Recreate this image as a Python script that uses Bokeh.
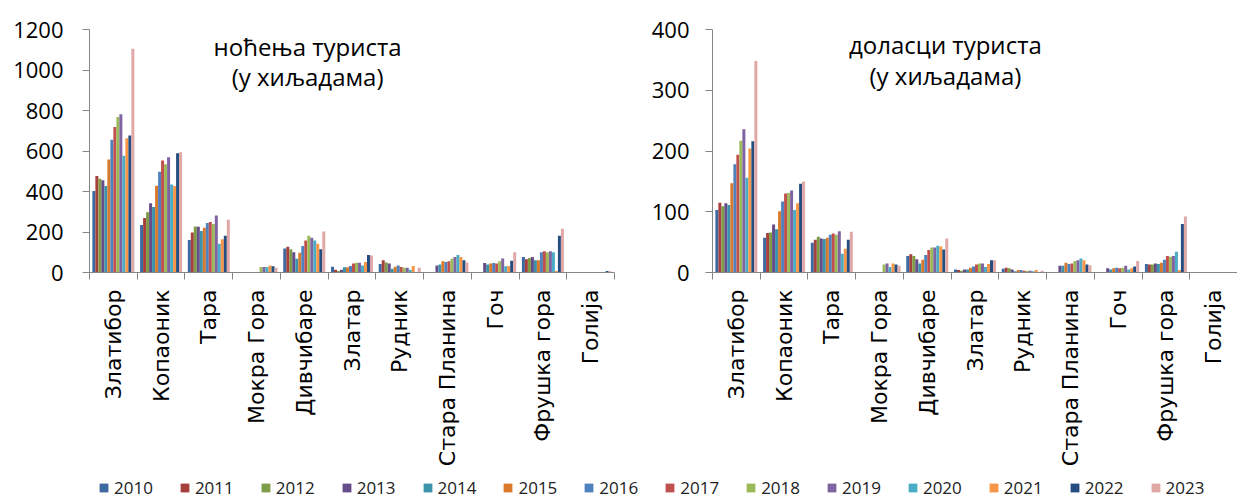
import math
from bokeh.plotting import figure
from bokeh.models import FixedTicker, Range1d, Label, Legend, LegendItem, ColumnDataSource
from bokeh.layouts import column, row
from bokeh.transform import dodge
from bokeh.embed import file_html
from bokeh.resources import INLINE

categories = ["Златибор", "Копаоник", "Тара", "Мокра Гора", "Дивчибаре", "Златар",
              "Рудник", "Стара Планина", "Гоч", "Фрушка гора", "Голија"]
years = ["2010", "2011", "2012", "2013", "2014", "2015", "2016",
         "2017", "2018", "2019", "2020", "2021", "2022", "2023"]

# ноћења туриста (у хиљадама)
n2010 = [403, 234, 160, 0, 118, 29, 42, 0, 0, 76, 0]
n2011 = [477, 269, 197, 0, 127, 13, 61, 0, 0, 65, 0]
n2012 = [463, 298, 227, 0, 115, 8, 50, 0, 0, 71, 0]
n2013 = [455, 342, 226, 0, 100, 13, 45, 34, 47, 76, 0]
n2014 = [427, 323, 205, 0, 68, 26, 19, 40, 39, 61, 0]
n2015 = [558, 429, 221, 0, 97, 26, 29, 55, 44, 61, 0]
n2016 = [655, 497, 244, 0, 131, 32, 35, 52, 47, 100, 0]
n2017 = [718, 553, 250, 0, 158, 45, 27, 55, 44, 105, 0]
n2018 = [768, 535, 240, 27, 182, 48, 24, 68, 56, 100, 0]
n2019 = [781, 569, 281, 27, 171, 48, 23, 76, 69, 105, 0]
n2020 = [576, 434, 142, 27, 158, 34, 13, 87, 31, 100, 0]
n2021 = [663, 427, 164, 34, 142, 52, 32, 76, 32, 8, 0]
n2022 = [677, 589, 182, 31, 115, 87, 3, 60, 58, 181, 8]
n2023 = [1105, 594, 260, 23, 202, 84, 23, 50, 100, 216, 6]

# доласци туриста (у хиљадама)
a2010 = [103, 57, 49, 0, 27, 5, 6, 0, 0, 14, 0]
a2011 = [115, 65, 54, 0, 30, 4, 8, 0, 0, 13, 0]
a2012 = [109, 66, 59, 0, 27, 3, 7, 0, 0, 13, 0]
a2013 = [114, 79, 56, 0, 22, 5, 5, 11, 7, 15, 0]
a2014 = [111, 71, 55, 0, 15, 5, 2, 11, 5, 14, 0]
a2015 = [147, 101, 57, 0, 21, 8, 4, 16, 7, 16, 0]
a2016 = [178, 117, 62, 0, 29, 10, 4, 14, 8, 21, 0]
a2017 = [194, 130, 64, 0, 37, 13, 3, 15, 7, 27, 0]
a2018 = [217, 131, 62, 13, 41, 15, 3, 19, 8, 26, 0]
a2019 = [236, 135, 68, 15, 41, 15, 3, 20, 11, 27, 0]
a2020 = [156, 103, 31, 9, 44, 9, 2, 23, 5, 34, 0]
a2021 = [204, 114, 39, 15, 43, 14, 4, 20, 7, 4, 0]
a2022 = [216, 146, 54, 13, 38, 20, 0.5, 13, 10, 80, 0]
a2023 = [348, 150, 67, 11, 56, 20, 3, 12, 19, 92, 0]

nights = [n2010, n2011, n2012, n2013, n2014, n2015, n2016,
          n2017, n2018, n2019, n2020, n2021, n2022, n2023]
arrivals = [a2010, a2011, a2012, a2013, a2014, a2015, a2016,
            a2017, a2018, a2019, a2020, a2021, a2022, a2023]

colors = ["#3D69A3", "#A6403D", "#7E9C45", "#674C8A", "#3A93AB", "#D8792C", "#4F81BD",
          "#C0504D", "#9BBB59", "#8064A2", "#4BACC6", "#F79646", "#254D80", "#E0A9A8"]

AXIS_COLOR = "#868686"
BAR_W = 0.88 / len(years)


def make_chart(series, ymax, ystep, width, height, b_left, b_right, b_top, b_bottom,
               standoff, t1, t2, tx, ty1, ty2):
    p = figure(width=width, height=height, x_range=Range1d(0, len(categories)),
               y_range=Range1d(0, ymax), output_backend="svg", toolbar_location=None,
               min_border_left=b_left, min_border_right=b_right,
               min_border_top=b_top, min_border_bottom=b_bottom)
    p.outline_line_color = None
    p.xgrid.visible = False
    p.ygrid.visible = False
    p.background_fill_color = None
    p.border_fill_color = "white"

    data = {"xc": [i + 0.5 for i in range(len(categories))]}
    for y, s in zip(years, series):
        data["y" + y] = s
    src = ColumnDataSource(data)
    for j, (y, c) in enumerate(zip(years, colors)):
        p.vbar(x=dodge("xc", (j - (len(years) - 1) / 2) * BAR_W), top="y" + y,
               width=BAR_W, source=src, fill_color=c, line_color=None)

    # y axis
    p.yaxis.ticker = FixedTicker(ticks=list(range(0, ymax + 1, ystep)))
    p.yaxis.axis_line_color = AXIS_COLOR
    p.yaxis.major_tick_line_color = AXIS_COLOR
    p.yaxis.major_tick_in = 0
    p.yaxis.major_tick_out = 7
    p.yaxis.minor_tick_line_color = None
    p.yaxis.major_label_standoff = standoff
    p.yaxis.major_label_text_font = "Open Sans"
    p.yaxis.major_label_text_font_size = "22px"
    p.yaxis.major_label_text_color = "black"

    # x axis: labels at category centres, tick marks at category boundaries
    centers = [i + 0.5 for i in range(len(categories))]
    p.xaxis.ticker = FixedTicker(ticks=centers, minor_ticks=list(range(len(categories) + 1)))
    p.xaxis.major_label_overrides = {c: name for c, name in zip(centers, categories)}
    p.xaxis.axis_line_color = AXIS_COLOR
    p.xaxis.major_tick_line_color = None
    p.xaxis.major_tick_in = 0
    p.xaxis.major_tick_out = 0
    p.xaxis.minor_tick_line_color = AXIS_COLOR
    p.xaxis.minor_tick_in = 0
    p.xaxis.minor_tick_out = 7
    p.xaxis.major_label_orientation = math.pi / 2
    p.xaxis.major_label_standoff = 10
    p.xaxis.major_label_text_font = "DejaVu Sans"
    p.xaxis.major_label_text_font_size = "22px"
    p.xaxis.major_label_text_color = "black"

    for txt, ty in ((t1, ty1), (t2, ty2)):
        p.add_layout(Label(x=tx, y=ty, text=txt, text_align="center",
                           text_baseline="alphabetic", text_font="Open Sans",
                           text_font_size="24px", text_color="black"))
    return p


p1 = make_chart(nights, 1200, 200, width=620, height=469, b_left=89, b_right=6,
                b_top=28, b_bottom=193, standoff=19,
                t1="ноћења туриста", t2="(у хиљадама)", tx=4.57, ty1=1117, ty2=968)
p2 = make_chart(arrivals, 400, 100, width=617, height=469, b_left=92, b_right=0,
                b_top=29, b_bottom=197, standoff=16,
                t1="доласци туриста", t2="(у хиљадама)", tx=4.88, ty1=376, ty2=325)

# legend strip
pl = figure(width=1237, height=30, x_range=Range1d(0, 1), y_range=Range1d(0, 1),
            output_backend="svg", toolbar_location=None,
            x_axis_type=None, y_axis_type=None,
            min_border_left=0, min_border_right=0, min_border_top=0, min_border_bottom=0)
pl.outline_line_color = None
pl.xgrid.visible = False
pl.ygrid.visible = False
items = []
for y, c in zip(years, colors):
    r = pl.vbar(x=[-5], top=[-5], width=0.1, fill_color=c, line_color=None)
    items.append(LegendItem(label=y, renderers=[r]))
leg = Legend(items=items, orientation="horizontal", location=(98, 0),
             glyph_width=11, glyph_height=11, label_standoff=5, spacing=26,
             padding=0, margin=0, border_line_color=None, background_fill_alpha=0,
             label_text_font="Open Sans", label_text_font_size="17px",
             label_text_color="#222222", label_height=20)
pl.add_layout(leg)

layout = column(row(p1, p2), pl)
open("out.html", "w").write(file_html(layout, INLINE))
